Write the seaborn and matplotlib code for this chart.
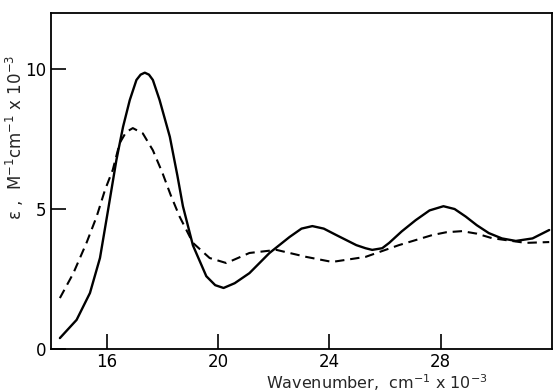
import numpy as np
import pandas as pd
import matplotlib
matplotlib.use('Agg')
import matplotlib.pyplot as plt
import seaborn as sns

# solid curve (wavenumber x 10^-3, epsilon x 10^-3)
solid_x = [14.32, 14.92, 15.4, 15.76, 16.04, 16.35, 16.59, 16.83, 17.07, 17.22, 17.37,
           17.52, 17.66, 17.9, 18.27, 18.54, 18.74, 19.1, 19.58, 19.9, 20.2, 20.6,
           21.13, 21.85, 22.57, 23.0, 23.39, 23.8, 24.25, 24.97, 25.3, 25.54, 25.9,
           26.15, 26.6, 27.1, 27.6, 28.1, 28.5, 28.9, 29.3, 29.73, 30.2, 30.7,
           31.3, 31.9]
solid_y = [0.39, 1.04, 2.0, 3.25, 4.9, 6.75, 7.94, 8.89, 9.61, 9.8, 9.87,
           9.8, 9.61, 8.9, 7.58, 6.2, 5.1, 3.7, 2.6, 2.28, 2.18, 2.35,
           2.71, 3.43, 4.0, 4.3, 4.39, 4.3, 4.07, 3.71, 3.6, 3.54, 3.6,
           3.79, 4.2, 4.6, 4.95, 5.1, 5.0, 4.73, 4.42, 4.14, 3.95, 3.86,
           3.95, 4.25]

# dashed curve
dash_x = [14.32, 14.8, 15.28, 15.64, 15.94, 16.22, 16.47, 16.7, 16.94, 17.3, 17.66,
          18.0, 18.3, 18.62, 19.1, 19.7, 20.3, 21.13, 22.1, 23.17, 24.1, 25.3,
          26.5, 27.7, 28.2, 28.77, 29.3, 29.84, 31.06, 31.9]
dash_y = [1.82, 2.7, 3.8, 4.73, 5.68, 6.4, 7.36, 7.75, 7.89, 7.7, 7.1,
          6.3, 5.5, 4.73, 3.79, 3.25, 3.07, 3.43, 3.54, 3.29, 3.11, 3.29,
          3.71, 4.07, 4.17, 4.21, 4.12, 3.96, 3.79, 3.82]

xticks = [16, 20, 24, 28]
yticks = [0, 5, 10]

sns.set_style("ticks")
plt.rcParams['font.family'] = ['DejaVu Sans']

fig = plt.figure(figsize=(5.53, 3.92), dpi=100)
ax = fig.add_axes([0.0922, 0.1097, 0.906, 0.857])

df_s = pd.DataFrame({'x': solid_x, 'y': solid_y})
df_d = pd.DataFrame({'x': dash_x, 'y': dash_y})
sns.lineplot(data=df_s, x='x', y='y', ax=ax, color='black', lw=1.7, sort=False)
sns.lineplot(data=df_d, x='x', y='y', ax=ax, color='black', lw=1.5, sort=False)
ax.lines[-1].set_dashes((4.5, 2.8))
for ln in ax.lines:
    ln.set_solid_joinstyle('round')
    ln.set_dash_joinstyle('round')

ax.set_xlim(14, 32)
ax.set_ylim(0, 12)
ax.set_xticks(xticks)
ax.set_yticks(yticks)
ax.tick_params(direction='in', length=11, width=1.2, labelsize=12, colors='black')
ax.tick_params(axis='x', pad=3)
for s in ax.spines.values():
    s.set_linewidth(1.3)
    s.set_color('black')

ax.set_xlabel('Wavenumber,  cm$^{-1}$ x 10$^{-3}$', fontsize=11.5, labelpad=0)
ax.xaxis.set_label_coords(0.65, -0.07)
ax.set_ylabel('ε ,  M$^{-1}$cm$^{-1}$ x 10$^{-3}$', fontsize=12, labelpad=0)
ax.yaxis.set_label_coords(-0.05, 0.63)

fig.savefig('out.png', dpi=100)
